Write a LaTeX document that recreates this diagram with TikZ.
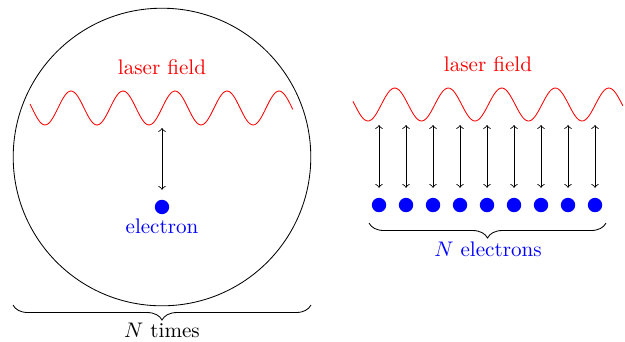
\documentclass[tikz,border=0pt]{standalone}
\usepackage{tikz}
\usetikzlibrary{positioning,decorations.pathreplacing}

\begin{document}
\begin{tikzpicture}[>=to,
    dot/.style={circle, fill=blue, inner sep=0pt, minimum size=2.4mm},
    wave/.style={red, samples=160, variable=\x},
    brc/.style={decorate, decoration={brace, mirror, amplitude=2.5mm}}]
  \useasboundingbox (-2.7,-3.067) rectangle (7.717,2.617);
  % one electron, N times
  \draw (0,0) circle (2.48);
  \draw[wave, domain=-2.2:2.18] plot ({\x},{0.817-0.283*cos(360*(\x+1.95)/0.867)});
  \node[red] (lf1) at (0,1.5) {laser field};
  \node[dot] (e0) at (0,-0.833) {};
  \node[blue, below=-0.6mm of e0] (el) {electron};
  \coordinate (w0) at (0,0.483);
  \draw[<->, shorten >=1.6mm] (w0) -- (e0.north);
  \coordinate (b1) at (-2.483,-2.467);
  \coordinate (b2) at (2.483,-2.467);
  \draw[brc] (b1) -- (b2);
  \node (nt) at (0,-2.883) {$N$ times};
  % N electrons
  \draw[wave, domain=3.183:7.683] plot ({\x},{0.875-0.275*cos(360*(\x-3.433)/0.892)});
  \node[red] (lf2) at (5.433,1.55) {laser field};
  \foreach \i in {0,...,8}{
    \node[dot] (e\i) at (3.617+0.45*\i,-0.8) {};
    \coordinate (w\i) at (3.617+0.45*\i,0.533);
    \draw[<->, shorten >=1.6mm] (w\i) -- (e\i.north);
  }
  \coordinate (b3) at (3.45,-1.1);
  \coordinate (b4) at (7.4,-1.1);
  \draw[brc] (b3) -- (b4);
  \node[blue] (ne) at (5.433,-1.533) {$N$ electrons};
\end{tikzpicture}
\end{document}
